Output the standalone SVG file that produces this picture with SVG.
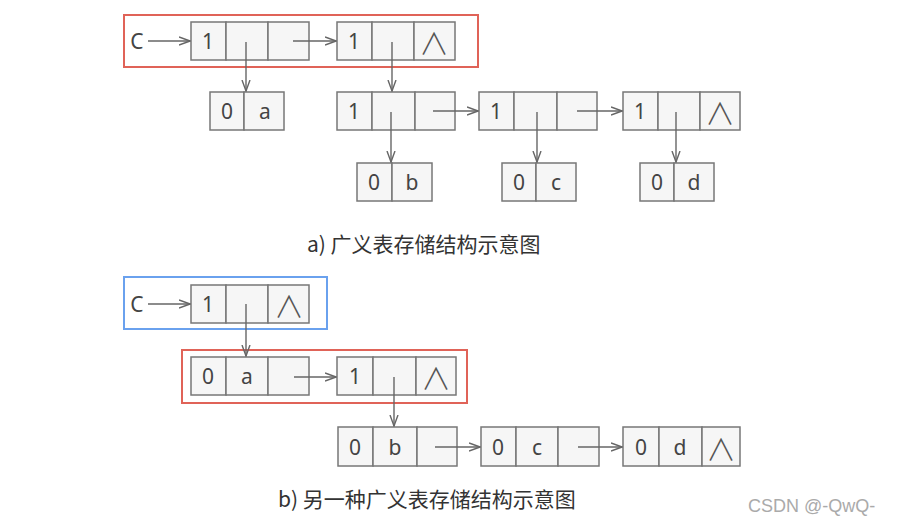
<svg xmlns="http://www.w3.org/2000/svg" width="897" height="525" viewBox="0 0 897 525">
<style>
.cell{fill:#f6f6f6;stroke:#777;stroke-width:1.5}
.t{font-family:"Noto Sans","DejaVu Sans",sans-serif;font-size:21px;fill:#444;text-anchor:middle;dominant-baseline:central}
.nil{font-family:"Noto Sans CJK SC",sans-serif;font-weight:300;font-size:30px;fill:#555;text-anchor:middle;dominant-baseline:central}
.ar{stroke:#666;stroke-width:1.4;fill:none;marker-end:url(#ah)}
.cap{font-family:"Noto Sans CJK SC","Noto Sans",sans-serif;font-size:21px;fill:#333}
.wm{font-family:"Liberation Sans",Arial,sans-serif;font-size:18px;fill:#aaa}
</style>
<defs>
<marker id="ah" viewBox="0 0 12 10" refX="11" refY="5" markerWidth="12" markerHeight="10" markerUnits="userSpaceOnUse" orient="auto">
<path d="M0,1 L11,5 L0,9" fill="none" stroke="#666" stroke-width="1.4"/>
</marker>
</defs>
<rect width="897" height="525" fill="#fff"/>

<!-- frames -->
<rect id="frameA" x="124" y="15" width="354" height="52" fill="none" stroke="#e06358" stroke-width="2"/>
<rect id="frameB1" x="124" y="277" width="203" height="52" fill="none" stroke="#6aa1ee" stroke-width="2"/>
<rect id="frameB2" x="182" y="350" width="285" height="53" fill="none" stroke="#e06358" stroke-width="2"/>

<!-- part a nodes -->
<g id="a_C"><text class="t" x="137" y="41">C</text></g>
<g id="a_n1">
<rect class="cell" x="191" y="22" width="35" height="38"/><rect class="cell" x="226" y="22" width="42" height="38"/><rect class="cell" x="268" y="22" width="41" height="38"/>
<text class="t" x="208" y="41">1</text>
</g>
<g id="a_n2">
<rect class="cell" x="337" y="22" width="35" height="38"/><rect class="cell" x="372" y="22" width="42" height="38"/><rect class="cell" x="414" y="22" width="41" height="38"/>
<text class="t" x="354" y="41">1</text><text class="nil" x="434" y="41">∧</text>
</g>
<g id="a_atom_a">
<rect class="cell" x="210" y="92" width="34" height="38"/><rect class="cell" x="244" y="92" width="40" height="38"/>
<text class="t" x="227" y="111">0</text><text class="t" x="265" y="111">a</text>
</g>
<g id="a_r1">
<rect class="cell" x="337" y="92" width="35" height="38"/><rect class="cell" x="372" y="92" width="43" height="38"/><rect class="cell" x="415" y="92" width="40" height="38"/>
<text class="t" x="354" y="111">1</text>
</g>
<g id="a_r2">
<rect class="cell" x="479" y="92" width="35" height="38"/><rect class="cell" x="514" y="92" width="43" height="38"/><rect class="cell" x="557" y="92" width="40" height="38"/>
<text class="t" x="496" y="111">1</text>
</g>
<g id="a_r3">
<rect class="cell" x="623" y="92" width="35" height="38"/><rect class="cell" x="658" y="92" width="42" height="38"/><rect class="cell" x="700" y="92" width="40" height="38"/>
<text class="t" x="640" y="111">1</text><text class="nil" x="720" y="111">∧</text>
</g>
<g id="a_atom_b">
<rect class="cell" x="357" y="163" width="35" height="38"/><rect class="cell" x="392" y="163" width="40" height="38"/>
<text class="t" x="374" y="182">0</text><text class="t" x="412" y="182">b</text>
</g>
<g id="a_atom_c">
<rect class="cell" x="502" y="163" width="34" height="38"/><rect class="cell" x="536" y="163" width="40" height="38"/>
<text class="t" x="519" y="182">0</text><text class="t" x="556" y="182">c</text>
</g>
<g id="a_atom_d">
<rect class="cell" x="640" y="163" width="34" height="38"/><rect class="cell" x="674" y="163" width="40" height="38"/>
<text class="t" x="657" y="182">0</text><text class="t" x="694" y="182">d</text>
</g>

<!-- part b nodes -->
<g id="b_C"><text class="t" x="137" y="304">C</text></g>
<g id="b_n1">
<rect class="cell" x="191" y="285" width="35" height="38"/><rect class="cell" x="226" y="285" width="42" height="38"/><rect class="cell" x="268" y="285" width="41" height="38"/>
<text class="t" x="208" y="304">1</text><text class="nil" x="289" y="304">∧</text>
</g>
<g id="b_n2">
<rect class="cell" x="191" y="357" width="35" height="38"/><rect class="cell" x="226" y="357" width="42" height="38"/><rect class="cell" x="268" y="357" width="41" height="38"/>
<text class="t" x="208" y="376">0</text><text class="t" x="247" y="376">a</text>
</g>
<g id="b_n3">
<rect class="cell" x="337" y="357" width="36" height="38"/><rect class="cell" x="373" y="357" width="43" height="38"/><rect class="cell" x="416" y="357" width="40" height="38"/>
<text class="t" x="355" y="376">1</text><text class="nil" x="436" y="376">∧</text>
</g>
<g id="b_nb">
<rect class="cell" x="338" y="427" width="35" height="39"/><rect class="cell" x="373" y="427" width="44" height="39"/><rect class="cell" x="417" y="427" width="40" height="39"/>
<text class="t" x="355" y="447">0</text><text class="t" x="395" y="447">b</text>
</g>
<g id="b_nc">
<rect class="cell" x="481" y="427" width="35" height="39"/><rect class="cell" x="516" y="427" width="42" height="39"/><rect class="cell" x="558" y="427" width="41" height="39"/>
<text class="t" x="498" y="447">0</text><text class="t" x="537" y="447">c</text>
</g>
<g id="b_nd">
<rect class="cell" x="623" y="427" width="36" height="39"/><rect class="cell" x="659" y="427" width="43" height="39"/><rect class="cell" x="702" y="427" width="38" height="39"/>
<text class="t" x="641" y="447">0</text><text class="t" x="680" y="447">d</text><text class="nil" x="721" y="447">∧</text>
</g>

<!-- connectors -->
<g id="connectors">
<line class="ar" x1="148" y1="41" x2="190" y2="41"/>
<line class="ar" x1="293" y1="41" x2="336" y2="41"/>
<line class="ar" x1="246" y1="42" x2="246" y2="91"/>
<line class="ar" x1="392" y1="42" x2="392" y2="91"/>
<line class="ar" x1="433" y1="111" x2="478" y2="111"/>
<line class="ar" x1="577" y1="111" x2="622" y2="111"/>
<line class="ar" x1="391" y1="112" x2="391" y2="162"/>
<line class="ar" x1="537" y1="112" x2="537" y2="162"/>
<line class="ar" x1="676" y1="112" x2="676" y2="162"/>
<line class="ar" x1="148" y1="304" x2="190" y2="304"/>
<line class="ar" x1="246" y1="304" x2="246" y2="356"/>
<line class="ar" x1="294" y1="377" x2="336" y2="377"/>
<line class="ar" x1="394" y1="377" x2="394" y2="426"/>
<line class="ar" x1="435" y1="447" x2="480" y2="447"/>
<line class="ar" x1="578" y1="447" x2="622" y2="447"/>
</g>

<!-- captions -->
<text class="cap" x="307" y="252">a) 广义表存储结构示意图</text>
<text class="cap" x="278" y="507">b) 另一种广义表存储结构示意图</text>
<text class="wm" x="748" y="512">CSDN @-QwQ-</text>
</svg>
